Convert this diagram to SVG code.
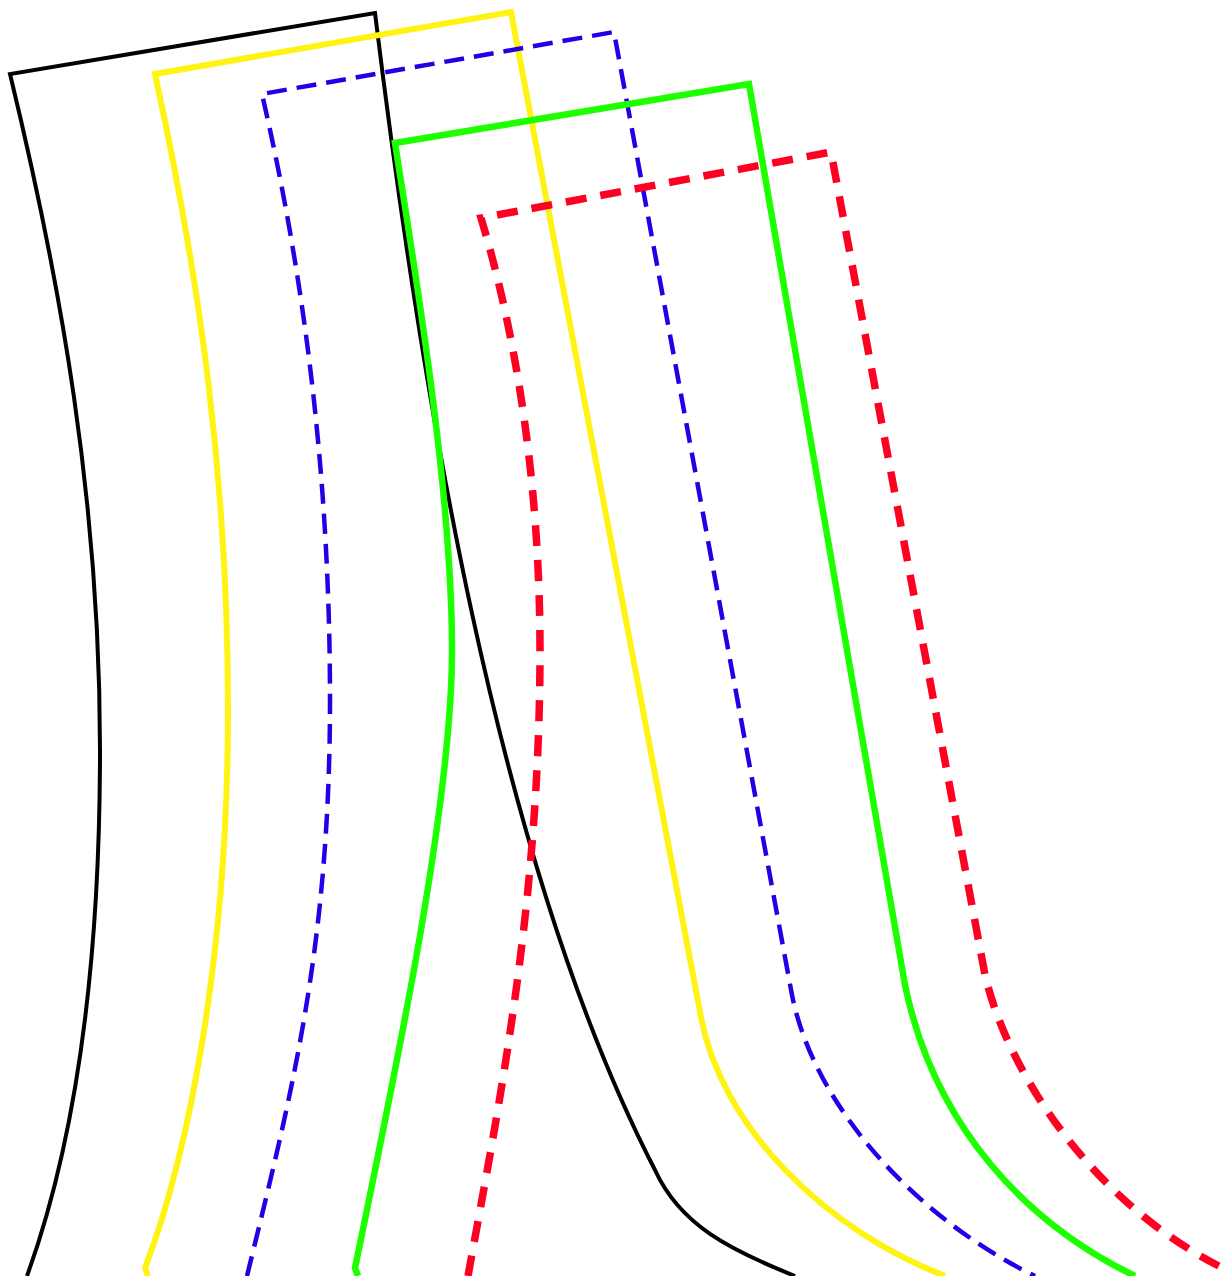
<svg xmlns="http://www.w3.org/2000/svg" width="1231" height="1276" viewBox="0 0 1231 1276">
<style>
.p{fill:none;stroke-linejoin:miter;stroke-linecap:butt}
.k{stroke:#000;stroke-width:4}
.y{stroke:#fff314;stroke-width:6}
.b{stroke:#2200e6;stroke-width:4.5;stroke-dasharray:20 10}
.g{stroke:#1eff00;stroke-width:6.5}
.r{stroke:#ff0022;stroke-width:7.5;stroke-dasharray:21 14}
</style>
<rect width="1231" height="1276" fill="#fff"/>
<g id="black"><path class="p k" d="M27 1276 C80 1130 100 950 100 750 C100 500 60 280 10 74 L375 13 C420 380 495 860 655 1170 C680 1225 730 1250 795 1276"/></g>
<g id="yellow"><path class="p y" d="M148 1276 L145 1268 C190 1150 228 950 228 710 C228 480 200 280 155 74 L511 12 L700 1012 C720 1130 830 1232 945 1276"/></g>
<g id="blue"><path class="p b" d="M247 1276 C290 1100 330 950 330 700 C330 480 305 280 262 94 L614 32 L792 995 C815 1110 920 1220 1035 1276"/></g>
<g id="green"><path class="p g" d="M358 1276 L355 1268 C400 1050 452 800 452 650 C452 500 420 300 395 143 L749 84 L905 985 C935 1130 1030 1225 1135 1276"/></g>
<g id="red"><path class="p r" d="M468 1276 C500 1100 540 900 540 650 C540 480 515 330 481 218 L831 152 L985 975 C1010 1080 1100 1210 1231 1272"/></g>
</svg>
